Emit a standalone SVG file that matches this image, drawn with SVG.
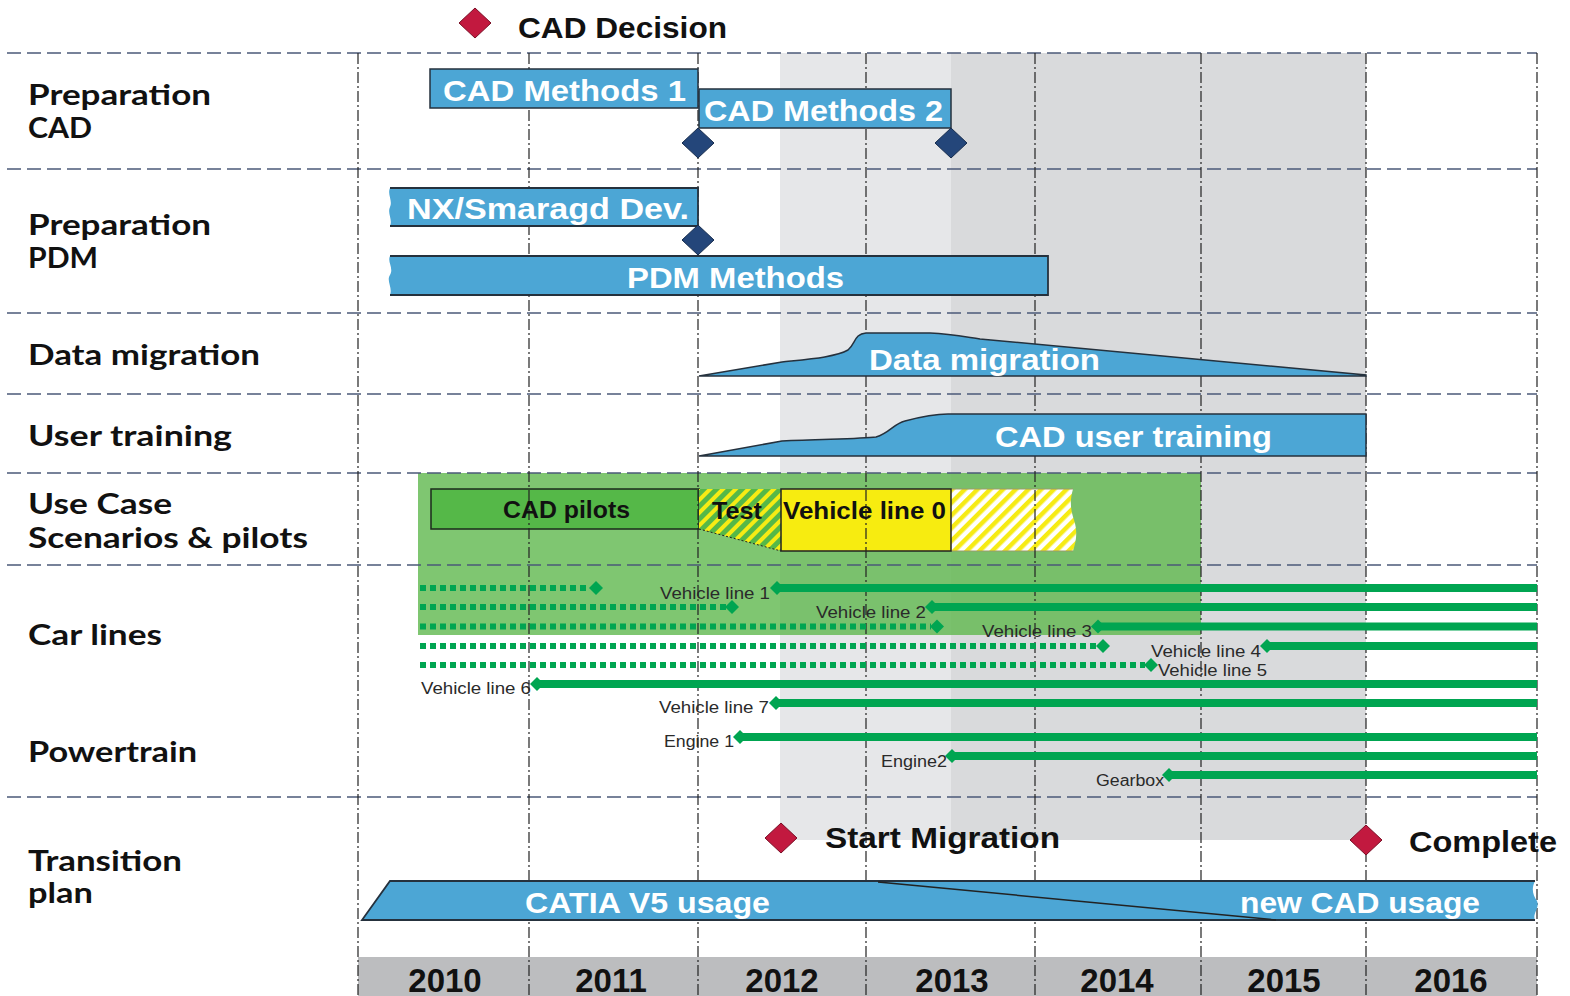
<svg xmlns="http://www.w3.org/2000/svg" width="1570" height="996" viewBox="0 0 1570 996">
<defs>
<style>
.row{font-family:Lato,"Noto Sans",sans-serif;font-weight:700;font-size:29px;fill:#111}
.bl{font-family:"Liberation Sans",Arial,sans-serif;font-weight:700;font-size:30px;fill:#fff}
.hd{font-family:"Liberation Sans",Arial,sans-serif;font-weight:700;font-size:30px;fill:#111}
.uc{font-family:"Liberation Sans",Arial,sans-serif;font-weight:700;font-size:24px;fill:#111}
.cl{font-family:"Liberation Sans",Arial,sans-serif;font-size:16px;fill:#2a2a2a}
.yr{font-family:"Liberation Sans",Arial,sans-serif;font-weight:700;font-size:33px;fill:#111;text-anchor:middle}
.bar{fill:#4ca6d5;stroke:#25313d;stroke-width:1.5}
.barf{fill:#4ca6d5;stroke:none}
.bars{fill:none;stroke:#25313d;stroke-width:1.8}
.hl{stroke:#4b5a78;stroke-width:1.6;stroke-dasharray:14 6;fill:none}
.vl{stroke:#222;stroke-width:1.2;stroke-dasharray:11 3 2 3;fill:none}
.sol{stroke:#00a551;stroke-width:8;fill:none}
.dot{stroke:#00a551;stroke-width:6;stroke-dasharray:6 4;fill:none}
.gd{fill:#00a551}
.nd{fill:#24467a;stroke:#172d4e;stroke-width:1}
.rd{fill:#c2193f;stroke:#7a0f26;stroke-width:1}
</style>
<pattern id="hy" width="9" height="9" patternUnits="userSpaceOnUse" patternTransform="rotate(45)">
<rect width="9" height="9" fill="#ffffff"/>
<rect width="4.5" height="9" fill="#f6eb14"/>
</pattern>
<pattern id="hg" width="9" height="9" patternUnits="userSpaceOnUse" patternTransform="rotate(45)">
<rect width="9" height="9" fill="#55b848"/>
<rect width="4" height="9" fill="#f6eb14"/>
</pattern>
</defs>

<g id="background">
<rect x="780" y="53" width="171" height="787" fill="#e6e7e9"/>
<rect x="951" y="53" width="415" height="787" fill="#d9dadc"/>
<rect x="418" y="473" width="783" height="162" fill="#5fb84e" opacity="0.8"/>
<rect x="358" y="957" width="1179" height="39" fill="#bcbdbf"/>
</g>

<g id="use-case-boxes">
<rect x="431" y="489" width="268" height="40" fill="#55b848" stroke="#1d2b1d" stroke-width="1.5"/>
<polygon points="699,489 781,489 781,551 699,529" fill="url(#hg)"/>
<line x1="699" y1="529" x2="781" y2="551" stroke="#222" stroke-width="1" stroke-dasharray="2 2"/>
<path d="M951,489 L1073,489 C1070,500 1070,508 1074,520 C1078,532 1076,542 1073,551 L951,551 Z" fill="url(#hy)"/>
<path d="M951,489 H1073 M951,551 H1073" stroke="#9a9a6a" stroke-width="1" fill="none"/>
<rect x="781" y="489" width="170" height="62" fill="#f7ec10" stroke="#222" stroke-width="1.5"/>
</g>

<g id="grid">
<path class="hl" d="M7,53H1537 M7,169H1537 M7,313H1537 M7,394H1537 M7,473H1537 M7,565H1537 M7,797H1537"/>
<path class="vl" d="M358,53V996 M529,53V996 M698,53V996 M866,53V996 M1035,53V996 M1201,53V996 M1366,53V996 M1537,53V996"/>
</g>

<g id="bars">
<rect class="bar" x="430" y="69" width="268" height="39"/>
<rect class="bar" x="699" y="89" width="252" height="39"/>
<path class="barf" d="M390,188 L698,188 L698,226 L390,226 C393,220 387,213 390,207 C393,201 387,194 390,188 Z"/>
<path class="bars" d="M390,188 H698 V226 H390"/>
<path class="barf" d="M390,256 L1048,256 L1048,295 L390,295 C393,288 386,281 390,275 C394,268 387,262 390,256 Z"/>
<path class="bars" d="M390,256 H1048 V295 H390"/>
<path class="bar" d="M699,376 L782,362 C810,359 836,357 848,350 C856,343 854,334 866,333 L930,333 C950,334 960,336 980,339 L1366,375 L1366,376 Z"/>
<path class="bar" d="M699,456 L782,441 C820,439 860,439 876,437 C890,433 893,424 905,421 C920,417 935,414 948,414 L1366,414 L1366,456 Z"/>
<path class="barf" d="M362,920 L390,881 L1535,881 C1531,889 1533,895 1537,901 C1540,908 1532,914 1535,920 Z"/>
<path class="bars" d="M1535,881 H390 L362,920 H1535"/>
<line x1="878" y1="882" x2="1276" y2="920" stroke="#222" stroke-width="1.5"/>
</g>

<g id="milestones">
<polygon class="nd" points="698,128 714,143 698,158 682,143"/>
<polygon class="nd" points="951,128 967,143 951,158 935,143"/>
<polygon class="nd" points="698,225 714,240 698,255 682,240"/>
<polygon class="rd" points="475,8 491,23 475,38 459,23"/>
<polygon class="rd" points="781,823 797,838 781,853 765,838"/>
<polygon class="rd" points="1366,825 1382,840 1366,855 1350,840"/>
</g>

<g id="car-lines">
<path class="dot" d="M420,588H590 M420,607H726 M420,626.5H931 M420,646H1097 M420,665H1145"/>
<path class="sol" d="M777,588H1537 M932,607H1537 M1098,626.5H1537 M1267,646H1537 M537,684H1537 M776,703H1537 M740,737H1537 M952,756H1537 M1169,775H1537"/>
<g class="gd">
<polygon points="596,581 603,588 596,595 589,588"/>
<polygon points="777,581 784,588 777,595 770,588"/>
<polygon points="732,600 739,607 732,614 725,607"/>
<polygon points="932,600 939,607 932,614 925,607"/>
<polygon points="937,619.5 944,626.5 937,633.5 930,626.5"/>
<polygon points="1098,619.5 1105,626.5 1098,633.5 1091,626.5"/>
<polygon points="1103,639 1110,646 1103,653 1096,646"/>
<polygon points="1267,639 1274,646 1267,653 1260,646"/>
<polygon points="1151,658 1158,665 1151,672 1144,665"/>
<polygon points="537,677 544,684 537,691 530,684"/>
<polygon points="776,696 783,703 776,710 769,703"/>
<polygon points="740,730 747,737 740,744 733,737"/>
<polygon points="952,749 959,756 952,763 945,756"/>
<polygon points="1169,768 1176,775 1169,782 1162,775"/>
</g>
</g>

<g id="row-labels">
<text class="row" x="28" y="105" textLength="183" lengthAdjust="spacingAndGlyphs">Preparation</text>
<text class="row" x="28" y="138" textLength="64" lengthAdjust="spacingAndGlyphs">CAD</text>
<text class="row" x="28" y="235" textLength="183" lengthAdjust="spacingAndGlyphs">Preparation</text>
<text class="row" x="28" y="268" textLength="70" lengthAdjust="spacingAndGlyphs">PDM</text>
<text class="row" x="28" y="365" textLength="232" lengthAdjust="spacingAndGlyphs">Data migration</text>
<text class="row" x="28" y="446" textLength="204" lengthAdjust="spacingAndGlyphs">User training</text>
<text class="row" x="28" y="514" textLength="144" lengthAdjust="spacingAndGlyphs">Use Case</text>
<text class="row" x="28" y="548" textLength="280" lengthAdjust="spacingAndGlyphs">Scenarios &amp; pilots</text>
<text class="row" x="28" y="645" textLength="134" lengthAdjust="spacingAndGlyphs">Car lines</text>
<text class="row" x="28" y="762" textLength="169" lengthAdjust="spacingAndGlyphs">Powertrain</text>
<text class="row" x="28" y="871" textLength="154" lengthAdjust="spacingAndGlyphs">Transition</text>
<text class="row" x="28" y="903" textLength="65" lengthAdjust="spacingAndGlyphs">plan</text>
</g>

<g id="bar-labels">
<text class="hd" x="518" y="38" textLength="209" lengthAdjust="spacingAndGlyphs">CAD Decision</text>
<text class="bl" x="443" y="101" textLength="243" lengthAdjust="spacingAndGlyphs">CAD Methods 1</text>
<text class="bl" x="704" y="121" textLength="239" lengthAdjust="spacingAndGlyphs">CAD Methods 2</text>
<text class="bl" x="407" y="219" textLength="282" lengthAdjust="spacingAndGlyphs">NX/Smaragd Dev.</text>
<text class="bl" x="627" y="288" textLength="217" lengthAdjust="spacingAndGlyphs">PDM Methods</text>
<text class="bl" x="869" y="370" textLength="231" lengthAdjust="spacingAndGlyphs">Data migration</text>
<text class="bl" x="995" y="447" textLength="277" lengthAdjust="spacingAndGlyphs">CAD user training</text>
<text class="uc" x="503" y="518" textLength="127" lengthAdjust="spacingAndGlyphs">CAD pilots</text>
<text class="uc" x="712" y="519" textLength="50" lengthAdjust="spacingAndGlyphs">Test</text>
<text class="uc" x="783" y="519" textLength="163" lengthAdjust="spacingAndGlyphs">Vehicle line 0</text>
<text class="hd" x="825" y="848" textLength="235" lengthAdjust="spacingAndGlyphs">Start Migration</text>
<text class="hd" x="1409" y="852" textLength="148" lengthAdjust="spacingAndGlyphs">Complete</text>
<text class="bl" x="525" y="913" textLength="245" lengthAdjust="spacingAndGlyphs">CATIA V5 usage</text>
<text class="bl" x="1240" y="913" textLength="240" lengthAdjust="spacingAndGlyphs">new CAD usage</text>
</g>

<g id="line-labels">
<text class="cl" x="660" y="599" textLength="110" lengthAdjust="spacingAndGlyphs">Vehicle line 1</text>
<text class="cl" x="816" y="618" textLength="110" lengthAdjust="spacingAndGlyphs">Vehicle line 2</text>
<text class="cl" x="982" y="637" textLength="110" lengthAdjust="spacingAndGlyphs">Vehicle line 3</text>
<text class="cl" x="1151" y="657" textLength="110" lengthAdjust="spacingAndGlyphs">Vehicle line 4</text>
<text class="cl" x="1158" y="676" textLength="109" lengthAdjust="spacingAndGlyphs">Vehicle line 5</text>
<text class="cl" x="421" y="694" textLength="110" lengthAdjust="spacingAndGlyphs">Vehicle line 6</text>
<text class="cl" x="659" y="713" textLength="110" lengthAdjust="spacingAndGlyphs">Vehicle line 7</text>
<text class="cl" x="664" y="747" textLength="70" lengthAdjust="spacingAndGlyphs">Engine 1</text>
<text class="cl" x="881" y="767" textLength="66" lengthAdjust="spacingAndGlyphs">Engine2</text>
<text class="cl" x="1096" y="786" textLength="68" lengthAdjust="spacingAndGlyphs">Gearbox</text>
</g>

<g id="years">
<text class="yr" x="445" y="992">2010</text>
<text class="yr" x="611" y="992">2011</text>
<text class="yr" x="782" y="992">2012</text>
<text class="yr" x="952" y="992">2013</text>
<text class="yr" x="1117" y="992">2014</text>
<text class="yr" x="1284" y="992">2015</text>
<text class="yr" x="1451" y="992">2016</text>
</g>
</svg>
